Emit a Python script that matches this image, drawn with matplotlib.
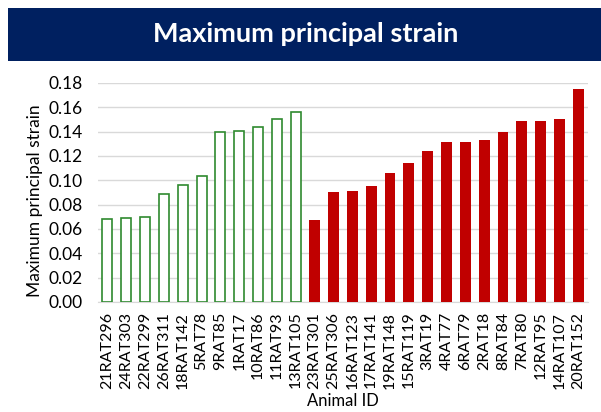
import numpy as np
import matplotlib.pyplot as plt
from matplotlib.patches import Rectangle

plt.rcParams['font.family'] = ['Lato', 'DejaVu Sans']

# 对照组 (green, hollow)
ids_a = ['21RAT296', '24RAT303', '22RAT299', '26RAT311', '18RAT142', '5RAT78',
         '9RAT85', '1RAT17', '10RAT86', '11RAT93', '13RAT105']
vals_a = [0.0685, 0.0688, 0.0701, 0.0885, 0.0962, 0.1038,
          0.1397, 0.1403, 0.1436, 0.1504, 0.1559]
# 实验组 (red, filled)
ids_b = ['23RAT301', '25RAT306', '16RAT123', '17RAT141', '19RAT148', '15RAT119',
         '3RAT19', '4RAT77', '6RAT79', '2RAT18', '8RAT84', '7RAT80',
         '12RAT95', '14RAT107', '20RAT152']
vals_b = [0.0677, 0.0901, 0.0915, 0.0951, 0.1060, 0.1140,
          0.1236, 0.1315, 0.1318, 0.1332, 0.1400, 0.1488,
          0.1488, 0.1504, 0.1748]

fig = plt.figure(figsize=(6.01, 4.12), dpi=100)

# 标题栏
fig.patches.append(Rectangle((0.0133, 0.852), 0.99, 0.129, transform=fig.transFigure,
                             facecolor='#002060', edgecolor='none', zorder=0))
fig.text(0.509, 0.918, 'Maximum principal strain', color='white', fontsize=19.5,
         fontweight='bold', ha='center', va='center')

ax = fig.add_axes([0.163, 0.267, 0.815, 0.532])
xa = np.arange(len(ids_a))
xb = np.arange(len(ids_b)) + len(ids_a)
ax.bar(xa, vals_a, width=0.53, facecolor='white', edgecolor='#2f8a2f', linewidth=1.2, zorder=3)
ax.bar(xb, vals_b, width=0.58, color='#c00000', zorder=3)

ax.set_xlim(-0.5, len(ids_a) + len(ids_b) - 0.5)
ax.set_ylim(0, 0.18)
ax.set_yticks(np.arange(0, 0.181, 0.02))
ax.set_yticklabels(['%.2f' % v for v in np.arange(0, 0.181, 0.02)], fontsize=12.5)
ax.set_xticks(np.concatenate([xa, xb]))
ax.set_xticklabels(ids_a + ids_b, rotation=90, fontsize=11.5)
ax.tick_params(axis='y', length=0, pad=11)
ax.tick_params(axis='x', length=0, pad=7)
ax.yaxis.grid(True, color='#d9d9d9', linewidth=1, zorder=0)
for s in ['top', 'right', 'left']:
    ax.spines[s].set_visible(False)
ax.spines['bottom'].set_color('#d9d9d9')
ax.set_ylabel('Maximum principal strain', fontsize=12.5)
ax.yaxis.set_label_coords(-0.112, 0.46)
ax.set_xlabel('Animal ID', fontsize=12)
ax.xaxis.set_label_coords(0.5, -0.415)

plt.savefig('out.png', dpi=100)
